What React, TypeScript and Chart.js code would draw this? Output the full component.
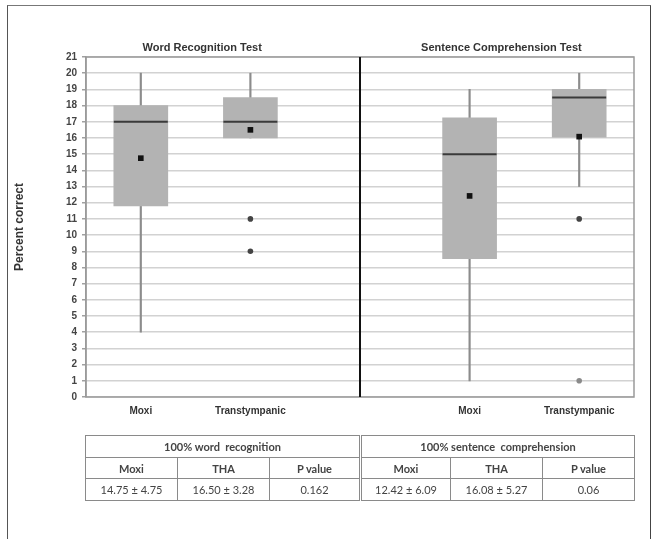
import React, { useEffect, useRef } from "react";
import { Chart, registerables } from "chart.js";
Chart.register(...registerables);

const categories = ["Moxi", "Transtympanic", "", "Moxi", "Transtympanic"];
const panelTitles = ["Word Recognition Test", "Sentence Comprehension Test"];
const whiskerMin = [4, 16, null, 1, 13];
const whiskerMax = [20, 20, null, 19, 20];
const q1 = [11.8, 16, null, 8.55, 16.05];
const q3 = [18, 18.5, null, 17.25, 19];
const medians = [17, 17, null, 15, 18.5];
const means = [14.75, 16.5, null, 12.42, 16.08];
const outliersHigh = [null, 11, null, null, 11];
const outliersLow = [null, 9, null, null, 1];
const yMin = 0;
const yMax = 21;
const yAxisTitle = "Percent correct";

const tableTitles = ["100% word  recognition", "100% sentence  comprehension"];
const tableCols = ["Moxi", "THA", "P value"];
const wordStats = ["14.75 ± 4.75", "16.50 ± 3.28", "0.162"];
const sentenceStats = ["12.42 ± 6.09", "16.08 ± 5.27", "0.06"];

const FONT = "'Liberation Sans', Arial, sans-serif";

const framePlugin = {
  id: "framePlugin",
  beforeDatasetsDraw(chart: any) {
    const { ctx, chartArea } = chart;
    const x = chart.scales.x;
    ctx.save();
    ctx.strokeStyle = "#9a9a9a";
    ctx.lineWidth = 1.5;
    ctx.strokeRect(chartArea.left, chartArea.top, chartArea.right - chartArea.left, chartArea.bottom - chartArea.top);
    const sx = Math.round(x.getPixelForValue(2));
    ctx.strokeStyle = "#111";
    ctx.lineWidth = 2;
    ctx.beginPath();
    ctx.moveTo(sx, chartArea.top);
    ctx.lineTo(sx, chartArea.bottom);
    ctx.stroke();
    ctx.restore();
  },
  afterDraw(chart: any) {
    const { ctx, chartArea } = chart;
    const x = chart.scales.x;
    ctx.save();
    ctx.fillStyle = "#333";
    ctx.font = "bold 11px " + FONT;
    ctx.textAlign = "center";
    ctx.textBaseline = "middle";
    const ty = chartArea.top - 9;
    ctx.fillText(panelTitles[0], x.getPixelForValue(0.56), ty);
    ctx.fillText(panelTitles[1], x.getPixelForValue(3.29), ty);
    ctx.restore();
  },
};

function StatsTable({ title, stats, left, widths }: { title: string; stats: string[]; left: number; widths: number[] }) {
  const cell: React.CSSProperties = {
    border: "1.5px solid #8a8a8a",
    padding: 0,
    textAlign: "center",
    height: 20,
    fontSize: 11,
    color: "#444",
    whiteSpace: "pre",
  };
  return (
    <table
      style={{
        position: "absolute",
        left,
        top: 435,
        borderCollapse: "collapse",
        tableLayout: "fixed",
        width: widths.reduce((a, b) => a + b, 0),
        fontFamily: "Lato, 'Open Sans', sans-serif",
      }}
    >
      <colgroup>
        {widths.map((w, i) => (
          <col key={i} style={{ width: w }} />
        ))}
      </colgroup>
      <tbody>
        <tr>
          <td colSpan={3} style={{ ...cell, fontWeight: "bold", height: 21 }}>{title}</td>
        </tr>
        <tr>
          {tableCols.map((c, i) => (
            <td key={i} style={{ ...cell, fontWeight: "bold" }}>{c}</td>
          ))}
        </tr>
        <tr>
          {stats.map((s, i) => (
            <td key={i} style={{ ...cell, height: 21 }}>{s}</td>
          ))}
        </tr>
      </tbody>
    </table>
  );
}

export default function App() {
  const canvasRef = useRef<HTMLCanvasElement>(null);
  useEffect(() => {
    if (!canvasRef.current) return;
    const chart = new Chart(canvasRef.current, {
      type: "bar",
      data: {
        labels: categories,
        datasets: [
          {
            type: "bar",
            data: whiskerMin.map((m, i) => (m == null ? null : [m, whiskerMax[i] as number])) as any,
            backgroundColor: "#8c8c8c",
            barThickness: 1.5,
            grouped: false,
            order: 5,
          } as any,
          {
            type: "bar",
            data: q1.map((m, i) => (m == null ? null : [m, q3[i] as number])) as any,
            backgroundColor: "#b3b3b3",
            borderWidth: 0,
            barThickness: 54,
            grouped: false,
            order: 4,
          } as any,
          {
            type: "line",
            data: medians as any,
            showLine: false,
            pointStyle: "line",
            pointRadius: 27,
            pointHoverRadius: 27,
            pointBorderColor: "#3a3a3a",
            pointBorderWidth: 2,
            order: 3,
          } as any,
          {
            type: "line",
            data: means as any,
            showLine: false,
            pointStyle: "rect",
            pointRadius: 4,
            pointHoverRadius: 4,
            pointBackgroundColor: "#111",
            pointBorderColor: "#111",
            pointBorderWidth: 0,
            order: 1,
          } as any,
          {
            type: "line",
            data: outliersHigh as any,
            showLine: false,
            pointStyle: "circle",
            pointRadius: 2.8,
            pointHoverRadius: 2.8,
            pointBackgroundColor: "#444",
            pointBorderColor: "#444",
            pointBorderWidth: 0,
            order: 1,
          } as any,
          {
            type: "line",
            data: outliersLow as any,
            showLine: false,
            pointStyle: "circle",
            pointRadius: 2.8,
            pointHoverRadius: 2.8,
            pointBackgroundColor: ["#444", "#444", "#444", "#444", "#8a8a8a"],
            pointBorderColor: ["#444", "#444", "#444", "#444", "#7a7a7a"],
            pointBorderWidth: 0,
            order: 1,
          } as any,
        ],
      },
      options: {
        animation: false,
        responsive: false,
        devicePixelRatio: 1,
        layout: { autoPadding: false, padding: { left: 8, top: 57, right: 17, bottom: 117 } },
        plugins: { legend: { display: false }, tooltip: { enabled: false }, title: { display: false } },
        scales: {
          x: {
            type: "category",
            offset: true,
            grid: { display: false, drawTicks: false },
            border: { display: false },
            ticks: { color: "#333", font: { family: FONT, size: 10, weight: "bold" }, padding: 8, maxRotation: 0, autoSkip: false },
            afterFit: (s: any) => {
              s.height = 25;
              s.paddingLeft = 0;
              s.paddingRight = 0;
            },
          },
          y: {
            min: yMin,
            max: yMax,
            ticks: { stepSize: 1, color: "#444", font: { family: FONT, size: 10, weight: "bold" }, padding: 5 },
            grid: { color: "#d2d2d2", lineWidth: 1.5, tickLength: 4, tickColor: "#a0a0a0" },
            border: { color: "#9a9a9a", width: 1.5 },
            title: { display: true, text: yAxisTitle, color: "#333", font: { family: FONT, size: 12, weight: "bold" }, padding: { top: 4, bottom: 0 } },
            afterFit: (s: any) => {
              s.width = 78;
            },
          },
        },
      } as any,
      plugins: [framePlugin],
    });
    return () => chart.destroy();
  }, []);

  return (
    <div style={{ position: "absolute", left: 0, top: 0, width: 651, height: 539, overflow: "hidden", background: "#fff" }}>
      <div style={{ position: "absolute", left: 7, top: 5, width: 642, height: 600, borderLeft: "1px solid #555", borderTop: "1px solid #777", borderRight: "1px solid #444", boxSizing: "content-box" }} />
      <canvas ref={canvasRef} width={651} height={539} style={{ position: "absolute", left: 0, top: 0 }} />
      <StatsTable title={tableTitles[0]} stats={wordStats} left={85} widths={[92, 92, 90]} />
      <StatsTable title={tableTitles[1]} stats={sentenceStats} left={361} widths={[89, 92, 92]} />
    </div>
  );
}
